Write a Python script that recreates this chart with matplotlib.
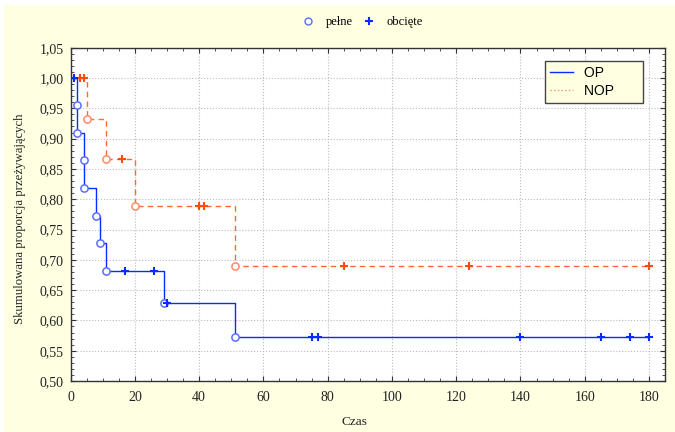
import matplotlib.pyplot as plt
from matplotlib.ticker import MultipleLocator, FuncFormatter
from matplotlib.lines import Line2D
from matplotlib.patches import Rectangle

plt.rcParams['font.family'] = ['Liberation Serif', 'DejaVu Serif']

# --- dane (Kaplan-Meier) ---
# OP
op_step_t = [0, 2, 4, 8, 9, 11, 29, 51, 180]
op_step_s = [1.0, 0.909, 0.818, 0.773, 0.727, 0.682, 0.629, 0.572, 0.572]
op_event_t = [2, 2, 4, 4, 8, 9, 11, 29, 51]
op_event_s = [0.955, 0.909, 0.864, 0.818, 0.773, 0.727, 0.682, 0.629, 0.572]
op_cens_t = [1, 17, 26, 30, 75, 77, 140, 165, 174, 180]
op_cens_s = [1.0, 0.682, 0.682, 0.629, 0.572, 0.572, 0.572, 0.572, 0.572, 0.572]

# NOP
nop_step_t = [0, 5, 11, 20, 51, 180]
nop_step_s = [1.0, 0.933, 0.867, 0.788, 0.689, 0.689]
nop_event_t = [5, 11, 20, 51]
nop_event_s = [0.933, 0.867, 0.788, 0.689]
nop_cens_t = [3, 4, 16, 40, 41.5, 85, 124, 180]
nop_cens_s = [1.0, 1.0, 0.867, 0.788, 0.788, 0.689, 0.689, 0.689]

BG = '#FFFFE1'
OP_LINE = '#0A2BFF'
OP_CIRC = '#5A6EFF'
NOP_LINE = '#FF6A33'
NOP_CIRC = '#FF8A66'
NOP_PLUS = '#FF4A10'

fig = plt.figure(figsize=(6.75, 4.32), dpi=100, facecolor='white')
fig.patches.append(Rectangle((4 / 675, 0), 1, 1 - 5 / 432, transform=fig.transFigure,
                             facecolor=BG, edgecolor='none', zorder=-10))

ax = fig.add_axes([0.1047, 0.118, 0.8805, 0.7716])
ax.set_facecolor('white')

# linie schodkowe
ax.step(op_step_t, op_step_s, where='post', color=OP_LINE, linewidth=1.0, zorder=3)
ax.step(nop_step_t, nop_step_s, where='post', color=NOP_LINE, linewidth=1.0,
        linestyle=(0, (4, 3)), zorder=2)

# zdarzenia (pełne)
ax.plot(op_event_t, op_event_s, 'o', markersize=5.2, markerfacecolor='white',
        markeredgecolor=OP_CIRC, markeredgewidth=1.1, linestyle='none', zorder=4)
ax.plot(nop_event_t, nop_event_s, 'o', markersize=5.2, markerfacecolor='white',
        markeredgecolor=NOP_CIRC, markeredgewidth=1.1, linestyle='none', zorder=4)

# obserwacje ucięte
ax.plot(op_cens_t, op_cens_s, '+', markersize=5.5, color=OP_LINE, markeredgewidth=1.5,
        linestyle='none', zorder=5)
ax.plot(nop_cens_t, nop_cens_s, '+', markersize=5.5, color=NOP_PLUS, markeredgewidth=1.5,
        linestyle='none', zorder=4)

ax.set_xlim(0, 185)
ax.set_ylim(0.50, 1.05)
ax.xaxis.set_major_locator(MultipleLocator(20))
ax.xaxis.set_minor_locator(MultipleLocator(5))
ax.yaxis.set_major_locator(MultipleLocator(0.05))
ax.yaxis.set_minor_locator(MultipleLocator(0.01))
ax.yaxis.set_major_formatter(FuncFormatter(lambda v, p: f'{v:.2f}'.replace('.', ',')))
ax.tick_params(which='both', direction='in', top=True, right=True, colors='#333333')
ax.tick_params(which='major', length=3.5, labelsize=10, labelcolor='#222222')
ax.tick_params(axis='x', which='major', pad=7)
ax.tick_params(axis='y', which='major', pad=5)
ax.tick_params(which='minor', length=2)
ax.grid(True, which='major', linestyle=':', color='#BBBBBB', linewidth=0.8)
for s in ax.spines.values():
    s.set_color('#333333')
    s.set_linewidth(1.0)

# legenda wewnętrzna
handles = [Line2D([], [], color=OP_LINE, linewidth=1.0),
           Line2D([], [], color=NOP_CIRC, linewidth=1.0, linestyle=':')]
leg = ax.legend(handles, ['OP         ', 'NOP      '], loc='upper right', bbox_to_anchor=(0.9635, 0.961),
                prop={'family': 'Liberation Sans', 'size': 10}, fancybox=False,
                facecolor=BG, edgecolor='#444444', framealpha=1, handlelength=1.7,
                borderpad=0.35, labelspacing=0.3, handletextpad=0.75, borderaxespad=0)
leg.get_frame().set_linewidth(1.0)

# legenda górna
top_handles = [Line2D([], [], marker='o', markersize=5, markerfacecolor='white',
                      markeredgecolor=OP_CIRC, linestyle='none'),
               Line2D([], [], marker='+', markersize=5.5, color=OP_LINE, markeredgewidth=1.5,
                      linestyle='none')]
fig.legend(top_handles, ['pełne', 'obcięte'], loc='center', bbox_to_anchor=(0.532, 1 - 22 / 432),
           ncol=2, frameon=False, fontsize=9, handletextpad=0.4, columnspacing=0.3)

fig.text(354 / 675, 1 - 422 / 432, 'Czas', ha='center', va='center', fontsize=9.5, color='#222222')
fig.text(20 / 675, 1 - 219 / 432, 'Skumulowana proporcja przeżywających', rotation=90,
         ha='center', va='center', fontsize=9.2, color='#222222')

fig.savefig('out.png', dpi=100, facecolor=fig.get_facecolor())
